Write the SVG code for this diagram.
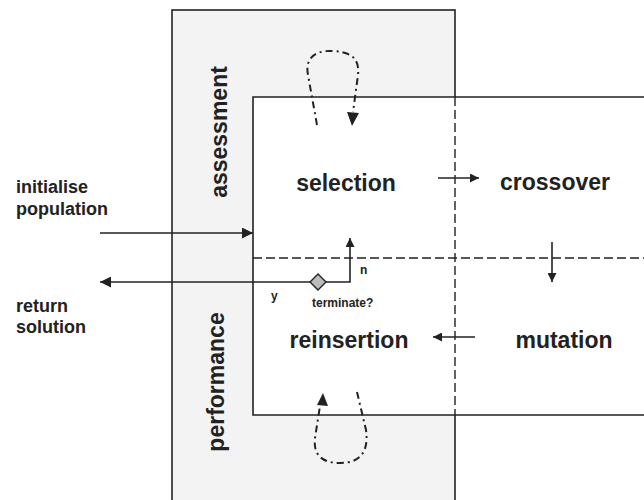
<svg xmlns="http://www.w3.org/2000/svg" width="644" height="500" viewBox="0 0 644 500">
<style>
.line{fill:none;stroke:#222;stroke-width:1.6}
.dash{fill:none;stroke:#222;stroke-width:1.4;stroke-dasharray:9 4}
.loop{fill:none;stroke:#222;stroke-width:2;stroke-dasharray:7 4 2 4}
.big{font-family:"Liberation Sans",Arial,sans-serif;font-weight:bold;font-size:23px;fill:#222;text-anchor:middle}
.lab{font-family:"Liberation Sans",Arial,sans-serif;font-weight:bold;font-size:18px;fill:#222}
.small{font-family:"Liberation Sans",Arial,sans-serif;font-weight:bold;font-size:12px;fill:#222}
</style>
<defs>
<marker id="ah" viewBox="0 0 10 10" refX="10" refY="5" markerWidth="11" markerHeight="9" markerUnits="userSpaceOnUse" orient="auto">
<path d="M0,0 L10,5 L0,10 Z" fill="#222"/>
</marker>
<marker id="ahl" viewBox="0 0 10 10" refX="10" refY="5" markerWidth="13" markerHeight="11" markerUnits="userSpaceOnUse" orient="auto">
<path d="M0,0 L10,5 L0,10 Z" fill="#222"/>
</marker>
</defs>
<rect width="644" height="500" fill="#fff"/>
<g id="band">
<rect x="172" y="10" width="283" height="500" fill="#f3f3f3" stroke="#222" stroke-width="1.6"/>
</g>
<g id="panel">
<rect x="253" y="97" width="400" height="318" fill="#fff"/>
<path class="line" d="M644,97 H253 V415 H644"/>
<line class="dash" x1="455" y1="97" x2="455" y2="415"/>
<line class="dash" x1="253" y1="258" x2="644" y2="258"/>
</g>
<g id="lane-labels">
<text class="big" transform="translate(227,132) rotate(-90)">assessment</text>
<text class="big" transform="translate(224,382) rotate(-90)">performance</text>
</g>
<g id="selection"><text class="big" x="346" y="191">selection</text></g>
<g id="crossover"><text class="big" x="555" y="190">crossover</text></g>
<g id="mutation"><text class="big" x="564" y="348">mutation</text></g>
<g id="reinsertion"><text class="big" x="349" y="348">reinsertion</text></g>
<g id="initialise"><text class="lab" x="16" y="193">initialise</text><text class="lab" x="16" y="215">population</text></g>
<g id="return"><text class="lab" x="16" y="312">return</text><text class="lab" x="16" y="333">solution</text></g>
<g id="terminate">
<path d="M318,274 L326,282 L318,290 L310,282 Z" fill="#bbb" stroke="#222" stroke-width="1.4"/>
<text class="small" x="312" y="307">terminate?</text>
<text class="small" x="271" y="300">y</text>
<text class="small" x="360" y="274">n</text>
</g>
<g id="connectors">
<line class="line" x1="100" y1="233" x2="253" y2="233" marker-end="url(#ahl)"/>
<line class="line" x1="310" y1="282" x2="100" y2="282" marker-end="url(#ahl)"/>
<path class="line" d="M326,282 H350 V238" marker-end="url(#ah)"/>
<line class="line" x1="438" y1="178" x2="479" y2="178" marker-end="url(#ah)"/>
<line class="line" x1="552" y1="242" x2="552" y2="282" marker-end="url(#ah)"/>
<line class="line" x1="475" y1="337" x2="433" y2="337" marker-end="url(#ah)"/>
<path class="loop" d="M317,125 L308,75 C304,55 320,50 333,51 C348,52 360,56 358,75 L353,112"/>
<path d="M347,112 L359,113 L352,126 Z" fill="#222"/>
<path class="loop" d="M357,392 L366,430 C369,452 360,463 340,463 C322,463 313,455 315,438 L320,406"/>
<path d="M317,405 L328,406 L323,393 Z" fill="#222"/>
</g>
</svg>
